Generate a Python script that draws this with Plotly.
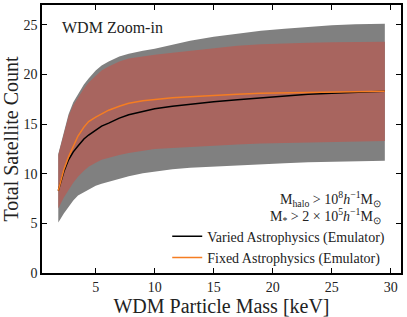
import plotly.graph_objects as go

mass = [1.83, 2.3, 2.7, 3.1, 3.5, 4.0, 4.4, 5.0, 5.5, 6.1, 7.0, 7.8, 9.0, 10.0,
        11.5, 13.0, 15.0, 17.0, 19.0, 21.0, 23.0, 25.0, 27.0, 29.5]
varied = [8.3, 10.2, 11.4, 12.2, 12.8, 13.5, 13.9, 14.4, 14.8, 15.1, 15.6, 15.95,
          16.3, 16.55, 16.8, 17.0, 17.25, 17.45, 17.65, 17.85, 18.0, 18.1, 18.2, 18.3]
fixed = [8.3, 10.4, 11.7, 12.8, 13.8, 14.7, 15.25, 15.7, 16.05, 16.4, 16.8, 17.1,
         17.35, 17.5, 17.65, 17.75, 17.9, 18.0, 18.1, 18.15, 18.2, 18.25, 18.3, 18.3]
varied_hi = [12.0, 14.3, 16.0, 17.2, 18.0, 19.0, 19.6, 20.4, 20.9, 21.3, 21.8, 22.1,
             22.4, 22.6, 23.0, 23.4, 23.8, 24.1, 24.4, 24.6, 24.8, 24.95, 25.05, 25.1]
varied_lo = [5.1, 6.0, 6.7, 7.3, 7.8, 8.2, 8.4, 8.8, 9.0, 9.25, 9.5, 9.75, 10.05,
             10.25, 10.45, 10.6, 10.75, 10.85, 10.95, 11.05, 11.15, 11.2, 11.25, 11.3]
fixed_hi = [11.9, 14.1, 15.8, 16.9, 17.7, 18.6, 19.2, 19.9, 20.4, 20.8, 21.3, 21.6,
            21.85, 22.0, 22.2, 22.4, 22.7, 22.9, 23.05, 23.15, 23.2, 23.25, 23.3, 23.3]
fixed_lo = [6.5, 7.6, 8.35, 9.1, 9.7, 10.3, 10.7, 11.1, 11.4, 11.6, 11.9, 12.1,
            12.35, 12.5, 12.6, 12.7, 12.85, 12.95, 13.05, 13.1, 13.15, 13.2, 13.25, 13.3]

x_ticks = [5, 10, 15, 20, 25, 30]
y_ticks = [0, 5, 10, 15, 20, 25]

SERIF = "Liberation Serif"
GRAY = "#808080"
RED = "#a8655f"
ORANGE = "#f57d22"

fig = go.Figure()
fig.add_trace(go.Scatter(x=mass + mass[::-1], y=varied_hi + varied_lo[::-1],
                         fill="toself", fillcolor=GRAY, line=dict(width=0),
                         mode="lines", showlegend=False, hoverinfo="skip"))
fig.add_trace(go.Scatter(x=mass + mass[::-1], y=fixed_hi + fixed_lo[::-1],
                         fill="toself", fillcolor=RED, line=dict(width=0),
                         mode="lines", showlegend=False, hoverinfo="skip"))
fig.add_trace(go.Scatter(x=mass, y=varied, mode="lines",
                         line=dict(color="black", width=1.5),
                         name="Varied Astrophysics (Emulator)"))
fig.add_trace(go.Scatter(x=mass, y=fixed, mode="lines",
                         line=dict(color=ORANGE, width=1.5),
                         name="Fixed Astrophysics (Emulator)"))

axis_common = dict(showline=True, linecolor="black", linewidth=1.6, mirror="allticks",
                   ticks="inside", ticklen=5, tickwidth=1, tickcolor="black",
                   showgrid=False, zeroline=False, automargin=False,
                   tickfont=dict(family=SERIF, size=14))

fig.update_xaxes(range=[0.45, 30.87], tickvals=x_ticks,
                 title=dict(text="WDM Particle Mass [keV]",
                            font=dict(family=SERIF, size=20), standoff=3),
                 **axis_common)
fig.update_yaxes(range=[0, 27], tickvals=y_ticks,
                 title=dict(text="Total Satellite Count",
                            font=dict(family=SERIF, size=20), standoff=3),
                 **axis_common)

fig.add_annotation(xref="paper", yref="paper", x=0.05, y=0.915, xanchor="left", yanchor="middle",
                   text="WDM Zoom-in", showarrow=False,
                   font=dict(family=SERIF, size=16, color="#222"))
fig.add_annotation(xref="paper", yref="paper", x=0.95, y=0.275, xanchor="right", yanchor="middle",
                   text="M<sub>halo</sub> > 10<sup>8</sup><i>h</i><sup>−1</sup>M<sub>⊙</sub>",
                   showarrow=False, font=dict(family=SERIF, size=14, color="#222"))
fig.add_annotation(xref="paper", yref="paper", x=0.95, y=0.212, xanchor="right", yanchor="middle",
                   text="M<sub>*</sub> > 2 × 10<sup>5</sup><i>h</i><sup>−1</sup>M<sub>⊙</sub>",
                   showarrow=False, font=dict(family=SERIF, size=14, color="#222"))

fig.update_layout(
    width=407, height=317,
    margin=dict(l=42, r=6, t=5, b=44),
    font=dict(family=SERIF, color="#222"),
    plot_bgcolor="white", paper_bgcolor="white",
    legend=dict(x=0.97, y=0.195, xanchor="right", yanchor="top",
                bgcolor="rgba(0,0,0,0)", font=dict(family=SERIF, size=14),
                tracegroupgap=0, itemwidth=30),
)

fig.write_html("out.html", config={"displayModeBar": False},
               post_script="document.body.style.margin='0';")
